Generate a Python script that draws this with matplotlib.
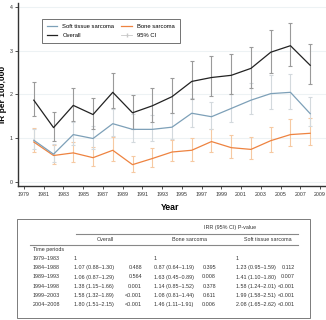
import numpy as np
import matplotlib
matplotlib.use("Agg")
import matplotlib.pyplot as plt
from matplotlib.lines import Line2D
from matplotlib.patches import Rectangle

plt.rcParams['font.family'] = ['Liberation Sans', 'DejaVu Sans']

# incidence rates per 100,000, two-year points
years = [1980, 1982, 1984, 1986, 1988, 1990, 1992, 1994, 1996, 1998, 2000, 2002, 2004, 2006, 2008]

overall = [1.87, 1.24, 1.75, 1.54, 2.05, 1.58, 1.74, 1.95, 2.30, 2.39, 2.44, 2.60, 2.97, 3.12, 2.67]
overall_lo = [1.50, 0.93, 1.39, 1.20, 1.68, 1.20, 1.38, 1.57, 1.89, 1.97, 2.02, 2.16, 2.50, 2.66, 2.23]
overall_hi = [2.29, 1.59, 2.15, 1.93, 2.50, 1.98, 2.14, 2.39, 2.76, 2.88, 2.92, 3.08, 3.47, 3.65, 3.16]

soft = [0.95, 0.63, 1.08, 0.99, 1.33, 1.20, 1.20, 1.25, 1.57, 1.49, 1.68, 1.87, 2.02, 2.05, 1.56]
soft_lo = [0.74, 0.45, 0.85, 0.76, 1.05, 0.92, 0.93, 0.97, 1.26, 1.20, 1.37, 1.55, 1.66, 1.66, 1.27]
soft_hi = [1.21, 0.86, 1.38, 1.27, 1.67, 1.55, 1.52, 1.58, 1.91, 1.83, 2.02, 2.27, 2.44, 2.46, 1.94]

bone = [0.91, 0.60, 0.66, 0.55, 0.72, 0.39, 0.53, 0.68, 0.72, 0.92, 0.78, 0.74, 0.94, 1.08, 1.11]
bone_lo = [0.67, 0.40, 0.44, 0.35, 0.48, 0.22, 0.34, 0.47, 0.48, 0.68, 0.55, 0.51, 0.68, 0.81, 0.84]
bone_hi = [1.22, 0.85, 0.92, 0.80, 1.02, 0.60, 0.77, 0.96, 1.00, 1.21, 1.08, 1.03, 1.25, 1.43, 1.45]

xticks = list(range(1979, 2010, 2))

# IRR table
periods = ["1979\u20131983", "1984\u20131988", "1989\u20131993", "1994\u20131998", "1999\u20132003", "2004\u20132008"]
col_names = ["Overall", "Bone sarcoma", "Soft tissue sarcoma"]
irr_overall = ["1", "1.07 (0.88\u20131.30)", "1.06 (0.87\u20131.29)", "1.38 (1.15\u20131.66)", "1.58 (1.32\u20131.89)", "1.80 (1.51\u20132.15)"]
p_overall = ["", "0.488", "0.564", "0.001", "<0.001", "<0.001"]
irr_bone = ["1", "0.87 (0.64\u20131.19)", "1.63 (0.45\u20130.89)", "1.14 (0.85\u20131.52)", "1.08 (0.81\u20131.44)", "1.46 (1.11\u20131.91)"]
p_bone = ["", "0.395", "0.008", "0.378", "0.611", "0.006"]
irr_soft = ["1", "1.23 (0.95\u20131.59)", "1.41 (1.10\u20131.80)", "1.58 (1.24\u20132.01)", "1.99 (1.58\u20132.51)", "2.08 (1.65\u20132.62)"]
p_soft = ["", "0.112", "0.007", "<0.001", "<0.001", "<0.001"]

W, H = 326, 320
fig = plt.figure(figsize=(W / 100, H / 100), dpi=100)
ax = fig.add_axes([18 / W, (H - 186) / H, 1 - 18 / W, 183 / H])

def err(v, lo, hi):
    v = np.array(v); return [v - np.array(lo), np.array(hi) - v]

for y in range(5):
    ax.axhline(y, color="#edf2f4", lw=0.8, zorder=0)

ax.errorbar(years, bone, yerr=err(bone, bone_lo, bone_hi), fmt="none", ecolor="#f6c9a2",
            elinewidth=0.8, capsize=1.5, capthick=0.8, zorder=1)
ax.errorbar(years, soft, yerr=err(soft, soft_lo, soft_hi), fmt="none", ecolor="#d3d9dd",
            elinewidth=0.8, capsize=1.5, capthick=0.8, zorder=1)
ax.errorbar(years, overall, yerr=err(overall, overall_lo, overall_hi), fmt="none", ecolor="#9a9a9a",
            elinewidth=0.8, capsize=1.5, capthick=0.8, zorder=1)
ax.plot(years, bone, color="#ee8340", lw=0.9, zorder=2)
ax.plot(years, soft, color="#7da0b8", lw=0.9, zorder=2)
ax.plot(years, overall, color="#222222", lw=0.9, zorder=2)

ax.set_xlim(1978.4, 2009.6)
ax.set_ylim(-0.1, 4.1)
ax.set_xticks(xticks)
ax.set_xticklabels([str(t) for t in xticks], fontsize=3.8, color="#555555")
ax.set_yticks(range(5))
ax.set_yticklabels([str(t) for t in range(5)], fontsize=3.8, color="#555555")
ax.tick_params(length=2, width=0.6, pad=2, colors="#333333")
for s in ["top", "right"]:
    ax.spines[s].set_visible(False)
for s in ["left", "bottom"]:
    ax.spines[s].set_linewidth(1.0)
    ax.spines[s].set_color("#333333")
ax.set_facecolor("white")

fig.text(4 / W, 1 - 94 / H, "IR per 100,000", rotation=90, fontsize=6, fontweight="bold",
         ha="center", va="center")
fig.text(170 / W, 1 - 208 / H, "Year", fontsize=6.3, fontweight="bold", ha="center", va="center")

handles = [Line2D([], [], color="#7da0b8", lw=0.9),
           Line2D([], [], color="#ee8340", lw=0.9),
           Line2D([], [], color="#222222", lw=0.9),
           Line2D([], [], color="#c8c8c8", lw=0.6, marker="|", markersize=3)]
labels = ["Soft tissue sarcoma", "Bone sarcoma", "Overall", "95% CI"]
leg = ax.legend([handles[0], handles[2], handles[1], handles[3]],
                [labels[0], labels[2], labels[1], labels[3]], ncol=2, fontsize=4.2,
                loc="upper left", bbox_to_anchor=((39 - 18) / 308, (186 - 16) / 183),
                frameon=True, fancybox=False, edgecolor="#333333", handlelength=1.8,
                handletextpad=0.9, columnspacing=1.2, borderpad=0.8, labelspacing=0.8)
leg.get_frame().set_linewidth(0.6)

# table drawn in figure pixel coordinates
def fx(x): return x / W
def fy(y): return 1 - y / H

fig.add_artist(Rectangle((fx(17), fy(318)), (310 - 17) / W, (318 - 219) / H,
                         transform=fig.transFigure, fill=False, lw=0.6, ec="#666666"))
fig.add_artist(Line2D([fx(76), fx(298)], [fy(234), fy(234)], transform=fig.transFigure,
                      lw=0.8, color="#888888"))
fig.add_artist(Line2D([fx(30), fx(298)], [fy(244.5), fy(244.5)], transform=fig.transFigure,
                      lw=0.8, color="#888888"))
fs = 3.9
tc = "#333333"
fig.text(fx(230), fy(228), "IRR (95% CI) P-value", fontsize=fs, ha="center", va="center", color=tc)
for name, cx in zip(col_names, [105, 190, 268]):
    fig.text(fx(cx), fy(239.5), name, fontsize=fs, ha="center", va="center", color=tc)
fig.text(fx(33), fy(249.5), "Time periods", fontsize=fs, ha="left", va="center", color=tc)
row_y = [258, 267.5, 277, 286.3, 295.3, 304.3]
for i, yy in enumerate(row_y):
    fig.text(fx(33), fy(yy), periods[i], fontsize=fs, ha="left", va="center", color=tc)
    fig.text(fx(74), fy(yy), irr_overall[i], fontsize=fs, ha="left", va="center", color=tc)
    fig.text(fx(142), fy(yy), p_overall[i], fontsize=fs, ha="right", va="center", color=tc)
    fig.text(fx(154), fy(yy), irr_bone[i], fontsize=fs, ha="left", va="center", color=tc)
    fig.text(fx(216), fy(yy), p_bone[i], fontsize=fs, ha="right", va="center", color=tc)
    fig.text(fx(235.5), fy(yy), irr_soft[i], fontsize=fs, ha="left", va="center", color=tc)
    fig.text(fx(295), fy(yy), p_soft[i], fontsize=fs, ha="right", va="center", color=tc)

fig.savefig("out.png", dpi=100)
